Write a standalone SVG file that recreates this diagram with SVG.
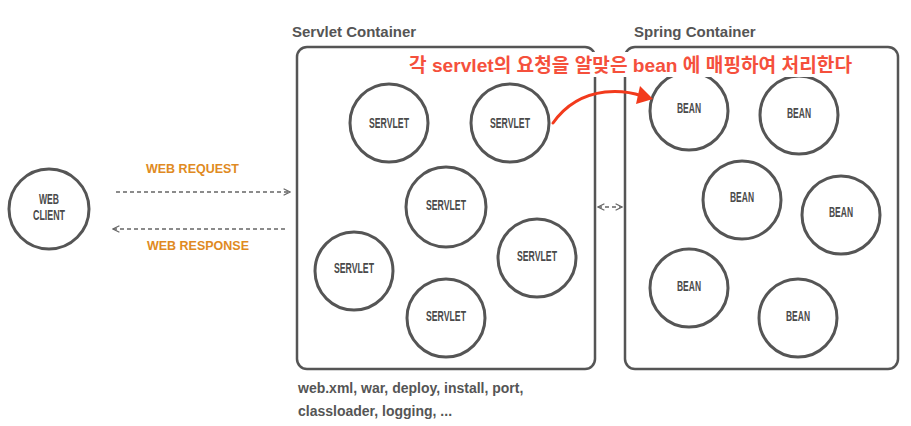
<svg xmlns="http://www.w3.org/2000/svg" width="911" height="426" viewBox="0 0 911 426">
<defs>
<style>
.node circle{fill:none;stroke:#555;stroke-width:3}
.node text{font-family:"Liberation Sans",Arial,sans-serif;font-weight:bold;font-size:15px;fill:#4a4a4a;text-anchor:middle}
.box{fill:none;stroke:#555;stroke-width:2.5}
.title{font-family:"Liberation Sans",Arial,sans-serif;font-weight:bold;font-size:15px;fill:#555}
.lbl{font-family:"Liberation Sans",Arial,sans-serif;font-weight:bold;font-size:13px;fill:#e08a22}
.dash{fill:none;stroke:#666;stroke-width:1.3;stroke-dasharray:4 3}
.note{font-family:"Liberation Sans",Arial,sans-serif;font-weight:bold;font-size:14px;fill:#555}
</style>
<marker id="chev" viewBox="0 0 10 10" refX="9" refY="5" markerWidth="8" markerHeight="8" markerUnits="userSpaceOnUse" orient="auto-start-reverse">
<path d="M1,1 L9,5 L1,9" fill="none" stroke="#666" stroke-width="1.5"/>
</marker>
</defs>
<rect width="911" height="426" fill="#fff"/>
<g id="servlet-container">
<rect class="box" x="297" y="47" width="298" height="322" rx="10"/>
<text class="title" x="292" y="37">Servlet Container</text>
</g>
<g id="spring-container">
<rect class="box" x="625" y="47" width="273" height="322" rx="10"/>
<text class="title" x="634" y="37">Spring Container</text>
</g>
<g id="web-client" class="node">
<circle cx="49" cy="209" r="40"/>
<text x="49" y="204" textLength="20" lengthAdjust="spacingAndGlyphs">WEB</text>
<text x="49" y="220" textLength="32" lengthAdjust="spacingAndGlyphs">CLIENT</text>
</g>
<g id="servlet1" class="node"><circle cx="389" cy="123" r="39"/><text x="389" y="128" textLength="40" lengthAdjust="spacingAndGlyphs">SERVLET</text></g>
<g id="servlet2" class="node"><circle cx="510" cy="123" r="39"/><text x="510" y="128" textLength="40" lengthAdjust="spacingAndGlyphs">SERVLET</text></g>
<g id="servlet3" class="node"><circle cx="446" cy="207" r="40"/><text x="446" y="210" textLength="40" lengthAdjust="spacingAndGlyphs">SERVLET</text></g>
<g id="servlet4" class="node"><circle cx="354" cy="271" r="39"/><text x="354" y="273" textLength="40" lengthAdjust="spacingAndGlyphs">SERVLET</text></g>
<g id="servlet5" class="node"><circle cx="537" cy="258" r="39"/><text x="537" y="261" textLength="40" lengthAdjust="spacingAndGlyphs">SERVLET</text></g>
<g id="servlet6" class="node"><circle cx="446" cy="318" r="39"/><text x="446" y="321" textLength="40" lengthAdjust="spacingAndGlyphs">SERVLET</text></g>
<g id="bean1" class="node"><circle cx="689" cy="111" r="39"/><text x="689" y="113" textLength="24" lengthAdjust="spacingAndGlyphs">BEAN</text></g>
<g id="bean2" class="node"><circle cx="799" cy="115" r="39"/><text x="799" y="118" textLength="24" lengthAdjust="spacingAndGlyphs">BEAN</text></g>
<g id="bean3" class="node"><circle cx="742" cy="200" r="39"/><text x="742" y="202" textLength="24" lengthAdjust="spacingAndGlyphs">BEAN</text></g>
<g id="bean4" class="node"><circle cx="841" cy="215" r="39"/><text x="841" y="217" textLength="24" lengthAdjust="spacingAndGlyphs">BEAN</text></g>
<g id="bean5" class="node"><circle cx="689" cy="288" r="39"/><text x="689" y="291" textLength="24" lengthAdjust="spacingAndGlyphs">BEAN</text></g>
<g id="bean6" class="node"><circle cx="798" cy="318" r="39"/><text x="798" y="321" textLength="24" lengthAdjust="spacingAndGlyphs">BEAN</text></g>
<g id="connectors">
<line class="dash" x1="116" y1="192" x2="290" y2="192" marker-end="url(#chev)"/>
<line class="dash" x1="285" y1="229" x2="113" y2="229" marker-end="url(#chev)"/>
<line class="dash" x1="598" y1="207" x2="622" y2="207" marker-start="url(#chev)" marker-end="url(#chev)"/>
<path d="M553,123 Q 572,96 605,92 Q 625,90 642,96" fill="none" stroke="#f23a1c" stroke-width="3" stroke-linecap="round"/>
<path d="M653,99 L636,104 L640,86 Z" fill="#f23a1c"/>
</g>
<text class="lbl" x="146" y="173" textLength="93" lengthAdjust="spacingAndGlyphs">WEB REQUEST</text>
<text class="lbl" x="147" y="250" textLength="102" lengthAdjust="spacingAndGlyphs">WEB RESPONSE</text>
<rect x="404" y="52" width="455" height="25" fill="#fff"/>
<text x="409" y="72" font-family="'Liberation Sans','Noto Sans CJK KR',sans-serif" font-weight="bold" font-size="19" fill="#f5503c" textLength="443" lengthAdjust="spacingAndGlyphs">각 servlet의 요청을 알맞은 bean 에 매핑하여 처리한다</text>
<text class="note" x="298" y="393">web.xml, war, deploy, install, port,</text>
<text class="note" x="298" y="416">classloader, logging, ...</text>
</svg>
